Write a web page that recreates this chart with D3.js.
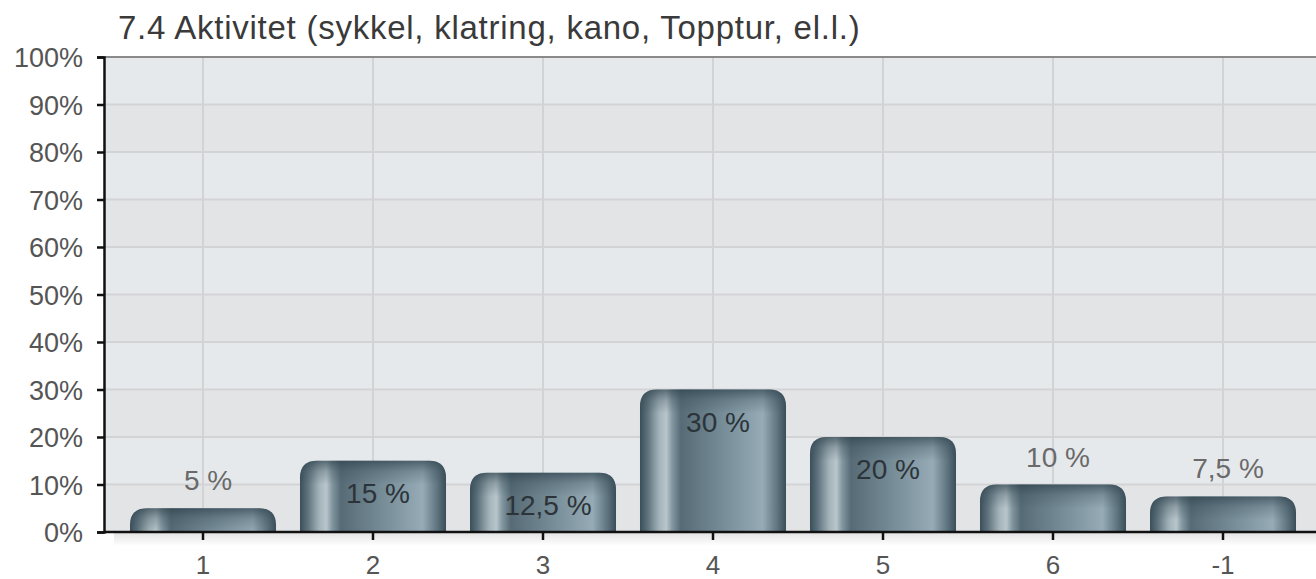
<!DOCTYPE html>
<html>
<head>
<meta charset="utf-8">
<script src="https://cdn.jsdelivr.net/npm/d3@7"></script>
<style>
  body { margin: 0; background: #fff; }
  svg text { font-family: "Liberation Sans", Arial, sans-serif; }
</style>
</head>
<body>
<div class="render"></div>
<script>
"use strict";

var title = "7.4 Aktivitet (sykkel, klatring, kano, Topptur, el.l.)";
var categories = ["1", "2", "3", "4", "5", "6", "-1"];
var values = [5, 15, 12.5, 30, 20, 10, 7.5];
var valueLabels = ["5 %", "15 %", "12,5 %", "30 %", "20 %", "10 %", "7,5 %"];
var yTicks = [0, 10, 20, 30, 40, 50, 60, 70, 80, 90, 100];

var w = 1316, h = 579;
var plotLeft = 104, plotTop = 57, plotBottom = 532;

var svg = d3.select(".render").append("svg").attr("width", w).attr("height", h);
var defs = svg.append("defs");

var x = d3.scaleBand().domain(categories).range([118, 1308]).paddingInner(0.141).paddingOuter(0.0705);
var y = d3.scaleLinear().domain([0, 100]).range([plotBottom, plotTop]);

// bar colour, left to right
var g1 = defs.append("linearGradient").attr("id", "barFill").attr("x1", 0).attr("x2", 1).attr("y1", 0).attr("y2", 0);
[[0, "#3b4f5a"], [0.05, "#5b707b"], [0.13, "#a3b2b9"], [0.18, "#b9c6cc"], [0.22, "#8397a1"], [0.28, "#566b76"],
 [0.6, "#7a909b"], [0.84, "#96abb6"], [0.94, "#5e7480"], [1, "#3a4e58"]].forEach(function (s) {
   g1.append("stop").attr("offset", s[0]).attr("stop-color", s[1]);
});
// darker top cap
var g2 = defs.append("linearGradient").attr("id", "capFill").attr("x1", 0).attr("x2", 0).attr("y1", 0).attr("y2", 1);
g2.append("stop").attr("offset", 0).attr("stop-color", "#2e424c").attr("stop-opacity", 0.7);
g2.append("stop").attr("offset", 0.45).attr("stop-color", "#3a4e58").attr("stop-opacity", 0.3);
g2.append("stop").attr("offset", 1).attr("stop-color", "#3a4e58").attr("stop-opacity", 0);
var g3 = defs.append("linearGradient").attr("id", "shadow").attr("x1", 0).attr("x2", 0).attr("y1", 0).attr("y2", 1);
g3.append("stop").attr("offset", 0).attr("stop-color", "#e2e2e2");
g3.append("stop").attr("offset", 1).attr("stop-color", "#ffffff");

// plot background, alternating bands
svg.append("rect").attr("x", plotLeft + 10).attr("y", plotBottom).attr("width", w - plotLeft).attr("height", 14).attr("fill", "url(#shadow)");
svg.selectAll("rect.band").data(d3.range(10)).enter().append("rect").attr("class", "band")
   .attr("x", plotLeft).attr("width", w - plotLeft)
   .attr("y", function (d) { return y(100 - d * 10); })
   .attr("height", function (d) { return y(90 - d * 10) - y(100 - d * 10); })
   .attr("fill", function (d) { return d % 2 === 0 ? "#e6e9ec" : "#e3e4e6"; });

svg.selectAll("line.hgrid").data(yTicks.slice(1, 10)).enter().append("line").attr("class", "hgrid")
   .attr("x1", plotLeft).attr("x2", w).attr("y1", function (d) { return y(d); }).attr("y2", function (d) { return y(d); })
   .attr("stroke", "#d3d3d5").attr("stroke-width", 2);
svg.selectAll("line.vgrid").data(categories).enter().append("line").attr("class", "vgrid")
   .attr("x1", function (d) { return x(d) + x.bandwidth() / 2; }).attr("x2", function (d) { return x(d) + x.bandwidth() / 2; })
   .attr("y1", plotTop).attr("y2", plotBottom).attr("stroke", "#d3d3d5").attr("stroke-width", 2);
svg.append("line").attr("x1", plotLeft).attr("x2", w).attr("y1", plotTop).attr("y2", plotTop).attr("stroke", "#8a8a8a").attr("stroke-width", 2);

function topRounded(x0, y0, bw, bh, r) {
   r = Math.min(r, bh, bw / 2);
   return "M" + x0 + "," + (y0 + bh) + "V" + (y0 + r) + "Q" + x0 + "," + y0 + " " + (x0 + r) + "," + y0 +
      "H" + (x0 + bw - r) + "Q" + (x0 + bw) + "," + y0 + " " + (x0 + bw) + "," + (y0 + r) + "V" + (y0 + bh) + "Z";
}

var bars = svg.selectAll("g.bar").data(values).enter().append("g").attr("class", "bar");
bars.append("path").attr("d", function (d, i) {
   return topRounded(x(categories[i]), y(d), x.bandwidth(), plotBottom - y(d), 17);
}).attr("fill", "url(#barFill)");
bars.append("path").attr("d", function (d, i) {
   return topRounded(x(categories[i]), y(d), x.bandwidth(), Math.min(24, plotBottom - y(d)), 17);
}).attr("fill", "url(#capFill)");

bars.append("text").text(function (d, i) { return valueLabels[i]; })
   .attr("x", function (d, i) { return x(categories[i]) + x.bandwidth() / 2 + 5; })
   .attr("y", function (d) { return d >= 12.5 ? y(d) + 42 : y(d) - 18; })
   .attr("text-anchor", "middle").style("font-size", "28px")
   .attr("fill", function (d) { return d >= 12.5 ? "#2c3439" : "#6a6a6a"; });

// axes
var yAxis = d3.axisLeft(y).tickValues(yTicks).tickSize(7).tickPadding(14).tickFormat(function (d) { return d + "%"; });
var ga = svg.append("g").attr("transform", "translate(" + plotLeft + ",0)").call(yAxis);
ga.select(".domain").attr("stroke", "#111").attr("stroke-width", 2.5);
ga.selectAll(".tick line").attr("stroke", "#111").attr("stroke-width", 2.5);
ga.selectAll(".tick text").style("font-size", "27px").attr("fill", "#555").attr("dy", "0.36em");

var xAxis = d3.axisBottom(x).tickSize(8).tickSizeOuter(0).tickPadding(16);
var gx = svg.append("g").attr("transform", "translate(0," + plotBottom + ")").call(xAxis);
gx.select(".domain").attr("d", "M" + plotLeft + ",0H" + w).attr("stroke", "#111").attr("stroke-width", 2.5);
gx.selectAll(".tick line").attr("stroke", "#111").attr("stroke-width", 2.5);
gx.selectAll(".tick text").style("font-size", "26px").attr("fill", "#555");

svg.append("text").text(title).attr("x", 118).attr("y", 39).style("font-size", "33px")
   .style("letter-spacing", "0.75px").attr("fill", "#3a3a3a");
</script>
</body>
</html>
